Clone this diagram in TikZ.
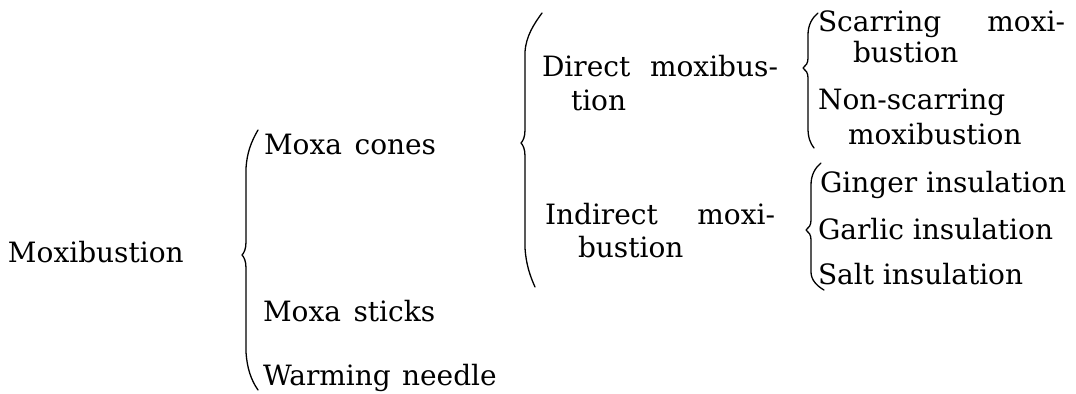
\documentclass[tikz,border=0pt]{standalone}
\usepackage{fontspec}
\setmainfont{DejaVu Serif}
\begin{document}
\begin{tikzpicture}[x=0.5pt,y=-0.5pt,
  lbl/.style={anchor=base west, inner sep=0pt, outer sep=0pt, font=\fontsize{14}{17}\selectfont},
  bracket/.style={line width=0.65pt, line cap=round, line join=round}]
\useasboundingbox (0,0) rectangle (1076,394);
% labels
\node[lbl] (moxi) at (8,263) {Moxibustion};
\node[lbl] (cones) at (264,155) {Moxa\hspace{0.45em}cones};
\node[lbl] (sticks) at (263,322) {Moxa\hspace{0.45em}sticks};
\node[lbl] (needle) at (263,386) {Warming\hspace{0.4em}needle};
\node[lbl] (direct1) at (542,77) {\makebox[118pt][s]{Direct moxibus-}};
\node[lbl] (direct2) at (571,111) {tion};
\node[lbl] (indirect1) at (545,225) {\makebox[115pt][s]{Indirect moxi-}};
\node[lbl] (indirect2) at (578,258) {bustion};
\node[lbl] (scar1) at (818,32) {\makebox[123.5pt][s]{Scarring moxi-}};
\node[lbl] (scar2) at (853,63) {bustion};
\node[lbl] (nonscar1) at (818,110) {Non-scarring};
\node[lbl] (nonscar2) at (848,145) {moxibustion};
\node[lbl] (ginger) at (820,193) {Ginger insulation};
\node[lbl] (garlic) at (818,240) {Garlic insulation};
\node[lbl] (salt) at (818,285) {Salt insulation};
% braces
\draw[bracket] (258,130) .. controls (251,142) and (247,153) .. (246,168) -- (246,242)
  .. controls (246,249) and (244,253) .. (242,255) .. controls (244,257) and (246,261) .. (246,268)
  -- (246,352) .. controls (247,368) and (251,380) .. (258,390);
\draw[bracket] (542,13) .. controls (534,24) and (526,36) .. (525,52) -- (525,130)
  .. controls (525,137) and (523,141) .. (521,143) .. controls (523,145) and (525,149) .. (525,156)
  -- (525,248) .. controls (526,264) and (530,276) .. (535,287);
\draw[bracket] (818,13) .. controls (812,18) and (808,25) .. (808,35) -- (808,58)
  .. controls (808,63) and (806,66) .. (803,68) .. controls (806,70) and (808,73) .. (808,78)
  -- (808,128) .. controls (808,137) and (810,143) .. (814,148);
\draw[bracket] (821,163) .. controls (815,168) and (811,175) .. (811,185) -- (811,220)
  .. controls (811,225) and (809,228) .. (806,230) .. controls (809,232) and (811,235) .. (811,240)
  -- (811,272) .. controls (811,280) and (817,286) .. (824,290);
\end{tikzpicture}
\end{document}
